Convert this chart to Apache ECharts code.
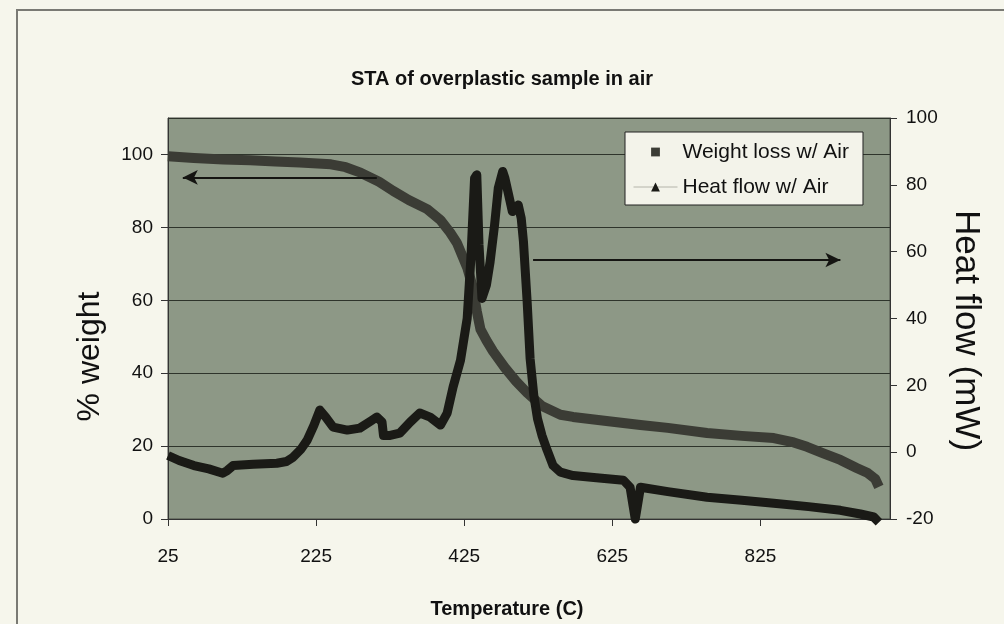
<!DOCTYPE html>
<html>
<head>
<meta charset="utf-8">
<title>STA of overplastic sample in air</title>
<script src="https://cdn.jsdelivr.net/npm/echarts@6.0.0/dist/echarts.min.js"></script>
<style>
  html, body { margin: 0; padding: 0; background: #f6f6ec; }
  #chart { width: 1004px; height: 624px; }
</style>
</head>
<body>
<div id="chart"></div>
<script>
// values
const tempWeight = [25, 60, 100, 136, 170, 203, 245, 265, 285, 310, 329, 350, 375, 393, 406, 415, 429, 436, 442, 447, 455, 464, 480, 495, 510, 530, 555, 572, 620, 663, 700, 753, 800, 843, 870, 888, 910, 933, 955, 970, 980, 985];
const weightPct = [99.5, 99, 98.6, 98.4, 98.1, 97.8, 97.3, 96.5, 95, 92.5, 90, 87.5, 85, 82, 78.6, 75.8, 69, 64, 57, 52, 49, 46, 41.5, 37.8, 34.6, 31, 28.6, 28, 26.8, 25.8, 25, 23.6, 22.8, 22.2, 21, 19.8, 18, 16.2, 14, 12.6, 11, 8.8];

const tempHeat = [25, 40, 60, 80, 99, 105, 113, 140, 172, 185, 194, 205, 213, 222, 230, 238, 248, 267, 284, 300, 307, 314, 316, 325, 338, 352, 365, 379, 393, 402, 410, 420, 429, 434, 439, 442, 445, 449, 455, 460, 466, 471, 477, 480, 484, 490, 495, 498, 502, 505, 510, 514, 519, 524, 530, 537, 545, 555, 572, 600, 640, 649, 653, 656, 659, 663, 700, 753, 800, 843, 890, 933, 960, 978, 985];
const heatMw = [-1, -2.5, -4, -5, -6.3, -5.5, -4, -3.6, -3.3, -2.8, -1.5, 1, 3.6, 8, 12.6, 10.5, 7.5, 6.6, 7.2, 9.5, 10.5, 9, 5, 5, 5.7, 9, 11.7, 10.5, 8.1, 11.7, 19.5, 27.5, 40, 58, 82, 83, 62, 46, 50, 57, 68, 79, 84, 82, 78, 72, 73, 74, 70, 63, 45, 28, 17, 10, 5, 0.6, -4, -6, -7, -7.6, -8.4, -10.5, -16, -20, -16, -10.5, -11.8, -13.5, -14.4, -15.3, -16.3, -17.4, -18.5, -19.4, -21];

const xTicks = [25, 225, 425, 625, 825];

// arrows pointing to each curve's axis
const weightArrow = [[307, 93.7], [45, 93.7]];
const heatArrow = [[518, 57.5], [933, 57.5]];

const font = 'Liberation Sans, Arial, sans-serif';

const chart = echarts.init(document.getElementById('chart'));

const option = {
  animation: false,
  backgroundColor: '#f6f6ec',
  title: {
    text: 'STA of overplastic sample in air',
    left: 'center',
    top: 64,
    textStyle: { fontFamily: font, fontSize: 20, fontWeight: 'bold', color: '#111' }
  },
  graphic: [{
    type: 'rect',
    shape: { x: 17, y: 10, width: 1100, height: 700 },
    style: { fill: 'none', stroke: '#7a7a74', lineWidth: 2 },
    silent: true
  }],
  legend: {
    orient: 'vertical',
    left: 625,
    top: 132,
    padding: [8, 14, 6, 8],
    itemGap: 11,
    itemWidth: 44,
    itemHeight: 11,
    backgroundColor: '#f3f3ea',
    borderColor: '#222',
    borderWidth: 1,
    borderRadius: 0,
    textStyle: { fontFamily: font, fontSize: 21, color: '#111', lineHeight: 24 },
    data: [
      { name: 'Weight loss w/ Air', lineStyle: { width: 0, opacity: 0 } },
      { name: 'Heat flow w/ Air', lineStyle: { width: 1, color: '#b4b4aa' } }
    ]
  },
  grid: {
    left: 168,
    right: 114,
    top: 118,
    bottom: 105,
    show: true,
    backgroundColor: '#8d9886',
    borderColor: '#4a4f46',
    borderWidth: 1
  },
  xAxis: {
    type: 'value',
    min: 25,
    max: 1000,
    name: 'Temperature (C)',
    nameLocation: 'middle',
    nameGap: 80,
    nameTextStyle: { fontFamily: font, fontSize: 20, fontWeight: 'bold', color: '#111', padding: [0, 44, 0, 0] },
    axisLine: { show: true, lineStyle: { color: '#333' } },
    axisTick: { show: true, length: 7, customValues: xTicks, lineStyle: { color: '#333' } },
    axisLabel: { customValues: xTicks, margin: 28, fontFamily: font, fontSize: 19, color: '#111' },
    splitLine: { show: false }
  },
  yAxis: [{
    type: 'value',
    min: 0,
    max: 110,
    interval: 20,
    position: 'left',
    name: '% weight',
    nameLocation: 'middle',
    nameGap: 62,
    nameTextStyle: { fontFamily: font, fontSize: 32, color: '#111', padding: [0, 76, 0, 0] },
    axisLine: { show: true, lineStyle: { color: '#333' } },
    axisTick: { show: true, length: 7, lineStyle: { color: '#333' } },
    axisLabel: { showMaxLabel: false, margin: 15, fontFamily: font, fontSize: 19, color: '#111' },
    splitLine: { show: true, lineStyle: { color: '#2e342b', width: 1 } }
  }, {
    type: 'value',
    min: -20,
    max: 100,
    interval: 20,
    position: 'right',
    name: 'Heat flow (mW)',
    nameLocation: 'middle',
    nameRotate: -90,
    nameGap: 58,
    nameTextStyle: { fontFamily: font, fontSize: 35, color: '#111', padding: [0, 0, 0, 24] },
    axisLine: { show: true, lineStyle: { color: '#333' } },
    axisTick: { show: true, length: 7, lineStyle: { color: '#333' } },
    axisLabel: { margin: 16, fontFamily: font, fontSize: 19, color: '#111' },
    splitLine: { show: false }
  }],
  series: [{
    name: 'Weight loss w/ Air',
    type: 'line',
    yAxisIndex: 0,
    data: tempWeight.map((t, i) => [t, weightPct[i]]),
    symbol: 'rect',
    showSymbol: false,
    color: '#3b3c35',
    lineStyle: { width: 10, color: '#3b3c35', join: 'round' },
    markLine: {
      silent: true,
      symbol: ['none', 'arrow'],
      symbolSize: [11, 15],
      label: { show: false },
      lineStyle: { color: '#151512', width: 2, type: 'solid' },
      data: [[{ coord: weightArrow[0] }, { coord: weightArrow[1] }]]
    }
  }, {
    name: 'Heat flow w/ Air',
    type: 'line',
    yAxisIndex: 1,
    clip: false,
    data: tempHeat.map((t, i) => [t, heatMw[i]]),
    symbol: 'triangle',
    showSymbol: false,
    color: '#1a1a16',
    lineStyle: { width: 9, color: '#1a1a16', join: 'round' },
    markLine: {
      silent: true,
      symbol: ['none', 'arrow'],
      symbolSize: [11, 15],
      label: { show: false },
      lineStyle: { color: '#151512', width: 2, type: 'solid' },
      data: [[{ coord: heatArrow[0] }, { coord: heatArrow[1] }]]
    }
  }]
};

chart.setOption(option);
</script>
</body>
</html>
